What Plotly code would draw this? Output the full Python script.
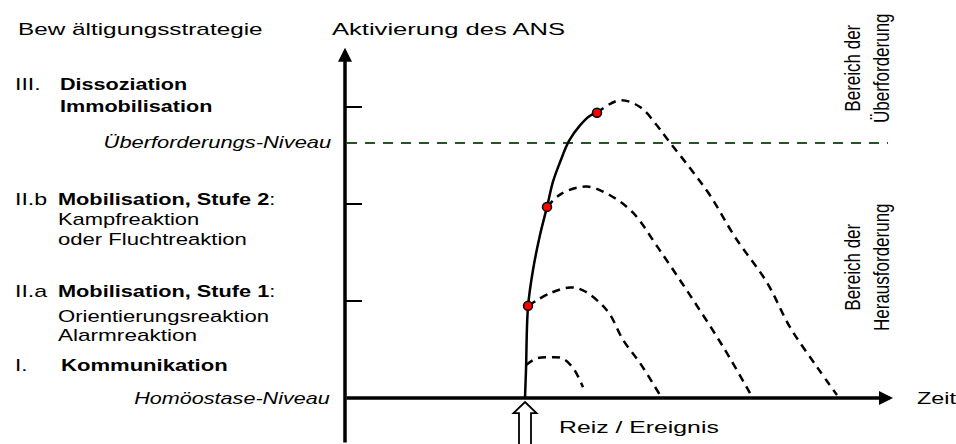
import json
import plotly.graph_objects as go

# ---------------- data (time units t, activation level y) ----------------
# solid rise curve (activation of the ANS after the stimulus)
rise_t = [9.0, 9.05, 9.15, 9.4, 9.75, 10.1, 10.4, 10.75, 11.2, 11.75, 12.25, 12.6]
rise_y = [0.0, 0.29, 0.94, 1.32, 1.68, 1.97, 2.23, 2.43, 2.65, 2.81, 2.91, 2.94]

# dashed recovery curves (I, II.a, II.b, III)
rec1_t = [9.05, 9.6, 10.25, 10.85, 11.4, 11.9]
rec1_y = [0.34, 0.41, 0.42, 0.41, 0.31, 0.11]
rec2_t = [9.15, 10.25, 11.25, 11.9, 12.75, 13.25, 13.9, 14.75, 15.75]
rec2_y = [0.95, 1.08, 1.14, 1.11, 0.98, 0.86, 0.60, 0.36, 0.03]
rec3_t = [10.1, 10.85, 12.1, 13.25, 14.4, 15.65, 17.25, 18.9, 20.25]
rec3_y = [1.97, 2.11, 2.18, 2.09, 1.91, 1.55, 1.06, 0.53, 0.05]
rec4_t = [12.6, 13.75, 14.75, 15.6, 16.15, 17.25, 18.25, 19.5, 21.1, 22.25, 23.6, 24.6]
rec4_y = [2.94, 3.07, 3.00, 2.81, 2.66, 2.37, 2.09, 1.66, 1.19, 0.73, 0.32, 0.03]

# transition points (red dots)
dot_t = [9.15, 10.1, 12.6]
dot_y = [0.95, 1.97, 2.94]

# levels
tick_levels = [1, 2, 3]
overload_level = 2.63
stimulus_t = 9.0
t_axis_end = 27.4
y_axis_end = 3.61

# ---------------- geometry helpers ----------------
W, H = 956, 444
X0_PX, Y0_PX, SX, SY = 345, 398, 20.0, 97.0
x_range = [-X0_PX / SX, (W - X0_PX) / SX]
y_range = [-(H - Y0_PX) / SY, Y0_PX / SY]


def px(x):
    return x / W


def py(y):
    return 1 - y / H


FONT = "Liberation Sans, Arial, sans-serif"

fig = go.Figure()

# overload level (green dashed)
fig.add_trace(go.Scatter(x=[0.1, 27.15], y=[overload_level, overload_level], mode="lines",
                         line=dict(color="#215a21", width=2, dash="10px,8px"), hoverinfo="skip"))

# y ticks
for lv in tick_levels:
    fig.add_trace(go.Scatter(x=[0, 0.85], y=[lv, lv], mode="lines",
                             line=dict(color="black", width=2), hoverinfo="skip"))

# recovery curves
for tt, yy in [(rec1_t, rec1_y), (rec2_t, rec2_y), (rec3_t, rec3_y), (rec4_t, rec4_y)]:
    fig.add_trace(go.Scatter(x=tt, y=yy, mode="lines", line_shape="spline",
                             line=dict(color="black", width=2.5, dash="8px,6px"), hoverinfo="skip"))

# rise curve
fig.add_trace(go.Scatter(x=rise_t, y=rise_y, mode="lines", line_shape="spline",
                         line=dict(color="black", width=2.5), hoverinfo="skip"))

# red dots
fig.add_trace(go.Scatter(x=dot_t, y=dot_y, mode="markers",
                         marker=dict(color="red", size=9, line=dict(color="black", width=1.5)),
                         hoverinfo="skip"))

# hollow stimulus arrow
hw, sw = 0.575, 0.3
tip_y, base_y, bot_y = -0.041, -0.155, -0.6
path = (f"M {stimulus_t},{tip_y} L {stimulus_t + hw},{base_y} L {stimulus_t + sw},{base_y} "
        f"L {stimulus_t + sw},{bot_y} L {stimulus_t - sw},{bot_y} L {stimulus_t - sw},{base_y} "
        f"L {stimulus_t - hw},{base_y} Z")
shapes = [dict(type="path", path=path, xref="x", yref="y", fillcolor="white",
               line=dict(color="black", width=1.8))]

annotations = []
# axes with arrowheads
annotations.append(dict(x=0, y=y_axis_end, ax=0, ay=y_range[0], xref="x", yref="y",
                        axref="x", ayref="y", showarrow=True, arrowhead=2, arrowsize=0.8,
                        arrowwidth=3.5, arrowcolor="black", text=""))
annotations.append(dict(x=t_axis_end, y=0, ax=0, ay=0, xref="x", yref="y",
                        axref="x", ayref="y", showarrow=True, arrowhead=2, arrowsize=0.8,
                        arrowwidth=3.5, arrowcolor="black", text=""))

stretch = {}  # annotation index -> [factor, origin, axis]


def label(text, x, y, anchor="left", size=16, angle=0, k=1.4):
    idx = len(annotations)
    annotations.append(dict(text=text, x=px(x), y=py(y), xref="paper", yref="paper",
                            xanchor=anchor, yanchor="middle", showarrow=False,
                            textangle=angle, align=anchor if anchor != "center" else "center",
                            font=dict(family=FONT, size=size, color="black")))
    if angle == 0:
        stretch[idx] = [k, anchor if anchor != "center" else "center", "X"]
    else:
        stretch[idx] = [k, "center", "Y"]


label("Bew ältigungsstrategie", 16, 29, k=1.52)
label("Aktivierung des ANS", 330, 30, k=1.6)
label("III.", 13, 85, k=1.45)
label("<b>Dissoziation</b>", 58, 85, k=1.35)
label("<b>Immobilisation</b>", 58, 106, k=1.35)
label("<i>Überforderungs-Niveau</i>", 333, 143, anchor="right", k=1.37)
label("II.b", 13, 199, k=1.45)
label("<b>Mobilisation, Stufe 2</b>:", 56, 199, k=1.36)
label("Kampfreaktion", 56, 219.5, k=1.37)
label("oder Fluchtreaktion", 56, 239, k=1.38)
label("II.a", 13, 291, k=1.45)
label("<b>Mobilisation, Stufe 1</b>:", 56, 291, k=1.36)
label("Orientierungsreaktion", 56, 316, k=1.38)
label("Alarmreaktion", 56, 335, k=1.41)
label("I.", 13, 365, k=1.4)
label("<b>Kommunikation</b>", 59, 365, k=1.38)
label("<i>Homöostase-Niveau</i>", 332, 398.5, anchor="right", k=1.35)
label("Zeit", 915, 398, k=1.46)
label("Reiz / Ereignis", 557, 427, k=1.55)
label("Bereich der<br>Überforderung", 867, 68, anchor="center", angle=-90, size=17, k=1.3)
label("Bereich der<br>Herausforderung", 867, 267, anchor="center", angle=-90, size=17, k=1.3)

fig.update_layout(
    width=W, height=H, margin=dict(l=0, r=0, t=0, b=0),
    paper_bgcolor="white", plot_bgcolor="white", showlegend=False,
    xaxis=dict(range=x_range, visible=False, fixedrange=True),
    yaxis=dict(range=y_range, visible=False, fixedrange=True),
    shapes=shapes, annotations=annotations,
)

# page without body margin, and the reference's horizontally stretched typography
post = """
document.body.style.margin = '0';
document.body.style.overflow = 'hidden';
var S = %s;
document.querySelectorAll('.js-plotly-plot g.annotation').forEach(function(g){
  var i = g.getAttribute('data-index');
  if (!(i in S)) return;
  var t = g.querySelector('text.annotation-text');
  if (!t) return;
  var o = S[i][1] === 'left' ? 'left' : (S[i][1] === 'right' ? 'right' : 'center');
  t.style.transformBox = 'fill-box';
  t.style.transformOrigin = o + ' center';
  t.style.transform = 'scale' + S[i][2] + '(' + S[i][0] + ')';
});
""" % json.dumps({str(k): v for k, v in stretch.items()})

fig.write_html("out.html", post_script=post, config={"displayModeBar": False, "staticPlot": True})
